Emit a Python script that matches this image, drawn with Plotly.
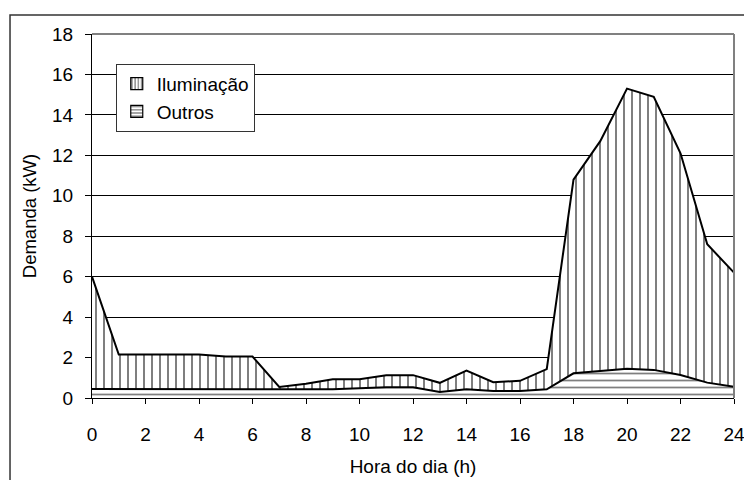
import plotly.graph_objects as go

# Hourly demand (kW)
hours = list(range(25))
outros = [0.45, 0.45, 0.45, 0.45, 0.45, 0.45, 0.45, 0.45, 0.45, 0.43, 0.48, 0.53,
          0.53, 0.3, 0.43, 0.35, 0.35, 0.43, 1.22, 1.34, 1.45, 1.39, 1.14, 0.76, 0.56]
iluminacao = [5.55, 1.7, 1.7, 1.7, 1.7, 1.6, 1.6, 0.1, 0.25, 0.5, 0.45, 0.6,
              0.6, 0.45, 0.93, 0.43, 0.5, 1.0, 9.58, 11.36, 13.85, 13.5, 10.96, 6.84, 5.64]
series = [("Outros", outros, "-", 7), ("Iluminação", iluminacao, "|", 8)]

FAMILY = "Liberation Sans, Arial, sans-serif"
FONT = dict(family=FAMILY, size=19, color="black")

fig = go.Figure()
for name, vals, shape, size in series:
    fig.add_trace(go.Scatter(
        x=hours, y=vals, name=name, stackgroup="one", mode="lines",
        line=dict(color="black", width=2),
        fillcolor="white", showlegend=False,
        fillpattern=dict(shape=shape, fgcolor="black", bgcolor="white", size=size, solidity=0.25),
    ))
    # legend-only entry: bar icon gives the small patterned square
    fig.add_trace(go.Bar(
        x=[None], y=[None], name=name,
        marker=dict(color="white", line=dict(color="black", width=1.2),
                    pattern=dict(shape=shape, fgcolor="black", bgcolor="white", size=4, solidity=0.4)),
    ))

# outer chart frame and grey plot-area border (top / right)
fig.add_shape(type="rect", xref="paper", yref="paper", x0=-0.1277, x1=1.06, y0=-0.35, y1=1.052,
              line=dict(color="#333333", width=1.5), layer="below")
fig.add_shape(type="line", xref="paper", yref="paper", x0=0, x1=1, y0=1, y1=1,
              line=dict(color="#808080", width=2))
fig.add_shape(type="line", xref="paper", yref="paper", x0=1, x1=1, y0=0, y1=1,
              line=dict(color="#808080", width=2))

fig.update_layout(
    width=744, height=480,
    margin=dict(l=92, r=10, t=34, b=82),
    paper_bgcolor="white", plot_bgcolor="white",
    font=FONT,
    showlegend=True,
    legend=dict(
        x=0.037, y=0.918, xanchor="left", yanchor="top",
        bgcolor="white", bordercolor="#333333", borderwidth=1,
        traceorder="reversed", itemwidth=30, font=FONT,
    ),
)
fig.update_xaxes(
    type="linear", range=[0, 24], tickmode="linear", tick0=0, dtick=2,
    showgrid=False, zeroline=False, automargin=False,
    showline=True, linecolor="black", linewidth=1,
    ticks="outside", ticklen=5, tickcolor="black", ticklabelstandoff=14,
    ticklabeloverflow="allow",
    title=dict(text="Hora do dia (h)", standoff=15, font=FONT),
    tickfont=FONT,
)
fig.update_yaxes(
    range=[0, 18], tickmode="linear", tick0=0, dtick=2,
    showgrid=True, gridcolor="black", gridwidth=1, zeroline=False, automargin=False,
    showline=True, linecolor="black", linewidth=1,
    ticks="outside", ticklen=6, tickcolor="black", ticklabelstandoff=8,
    title=dict(text="Demanda (kW)", standoff=10, font=dict(family=FAMILY, size=18.5, color="black")),
    tickfont=FONT,
)

# drop the default 8px page margin so the 744x480 figure fills the window exactly
fig.write_html("out.html", config={"displayModeBar": False},
               post_script="document.body.style.margin='0px';")
